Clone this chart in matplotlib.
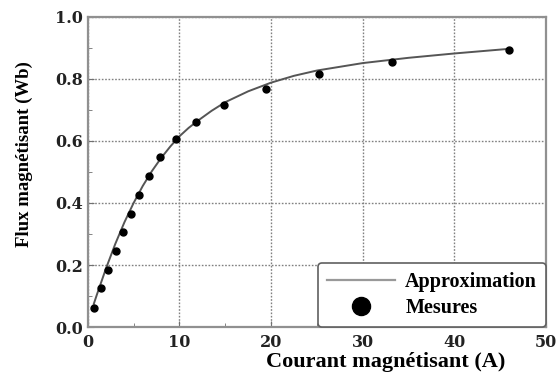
import matplotlib
matplotlib.use("Agg")
import matplotlib.pyplot as plt
from matplotlib.ticker import MultipleLocator
from matplotlib.lines import Line2D

# Measured points
current_meas = [0.66, 1.46, 2.23, 3.08, 3.8, 4.76, 5.64, 6.63, 7.84, 9.63, 11.8, 14.9, 19.45, 25.2, 33.2, 45.9]
flux_meas = [0.062, 0.125, 0.185, 0.245, 0.305, 0.365, 0.427, 0.487, 0.548, 0.605, 0.662, 0.717, 0.768, 0.815, 0.854, 0.894]

# Approximation curve
current_fit = [0.66, 1.0, 2.0, 3.0, 4.0, 5.0, 6.0, 7.0, 8.0, 9.0, 10.0, 11.0, 12.0, 13.5, 15.0,
               17.5, 20.0, 22.5, 25.0, 30.0, 35.0, 40.0, 46.0]
flux_fit = [0.075, 0.105, 0.19, 0.268, 0.338, 0.40, 0.455, 0.503, 0.545, 0.582, 0.615, 0.642,
            0.665, 0.697, 0.725, 0.76, 0.788, 0.81, 0.827, 0.851, 0.868, 0.882, 0.897]

xticks = [0, 10, 20, 30, 40, 50]
yticks = [0.0, 0.2, 0.4, 0.6, 0.8, 1.0]

plt.rcParams['font.family'] = ['Liberation Serif', 'DejaVu Serif']
plt.rcParams['font.weight'] = 'bold'

fig = plt.figure(figsize=(5.59, 3.83), dpi=100)
ax = fig.add_axes([0.157, 0.146, 0.82, 0.81])

ax.plot(current_fit, flux_fit, color='#555555', lw=1.4, zorder=3)
ax.plot(current_meas, flux_meas, 'o', color='black', ms=5, zorder=4)

ax.set_xlim(0, 50)
ax.set_ylim(0, 1.0)
ax.set_xticks(xticks)
ax.set_yticks(yticks)
ax.set_yticklabels([f"{v:.1f}" for v in yticks])
ax.xaxis.set_minor_locator(MultipleLocator(5))
ax.yaxis.set_minor_locator(MultipleLocator(0.1))
ax.tick_params(which='both', direction='in', color='#707070',
               labelfontfamily='DejaVu Serif', labelsize=11.5, labelcolor='#222222')
ax.tick_params(axis='x', pad=5)
ax.tick_params(axis='y', pad=3.5)
ax.tick_params(which='major', length=4)
ax.tick_params(which='minor', length=3)
ax.grid(True, which='major', linestyle=(0, (1.2, 1.2)), color='#808080', lw=1.0)
for s in ax.spines.values():
    s.set_color('#909090')
    s.set_linewidth(1.6)

ax.set_xlabel('Courant magnétisant (A)', fontsize=16, fontweight='bold')
ax.xaxis.set_label_coords(0.651, -0.113)
ax.xaxis.label.set_verticalalignment('center')
ax.set_ylabel('Flux magnétisant (Wb)', fontsize=13.5, fontweight='bold')
ax.yaxis.set_label_coords(-0.1376, 0.558)
ax.yaxis.label.set_verticalalignment('center')

handles = [Line2D([], [], color='#999999', lw=1.6),
           Line2D([], [], marker='o', ls='', color='black', ms=13)]
leg = ax.legend(handles, ['Approximation', 'Mesures'], loc='lower right',
                bbox_to_anchor=(1.0, 0.0), borderaxespad=0.0, fancybox=True,
                prop={'weight': 'bold', 'size': 14.5}, handlelength=3.4,
                handletextpad=0.5, labelspacing=0.3, borderpad=0.45, framealpha=1)
leg.get_frame().set_edgecolor('#606060')
leg.get_frame().set_linewidth(1.2)

fig.savefig('out.png', dpi=100)
